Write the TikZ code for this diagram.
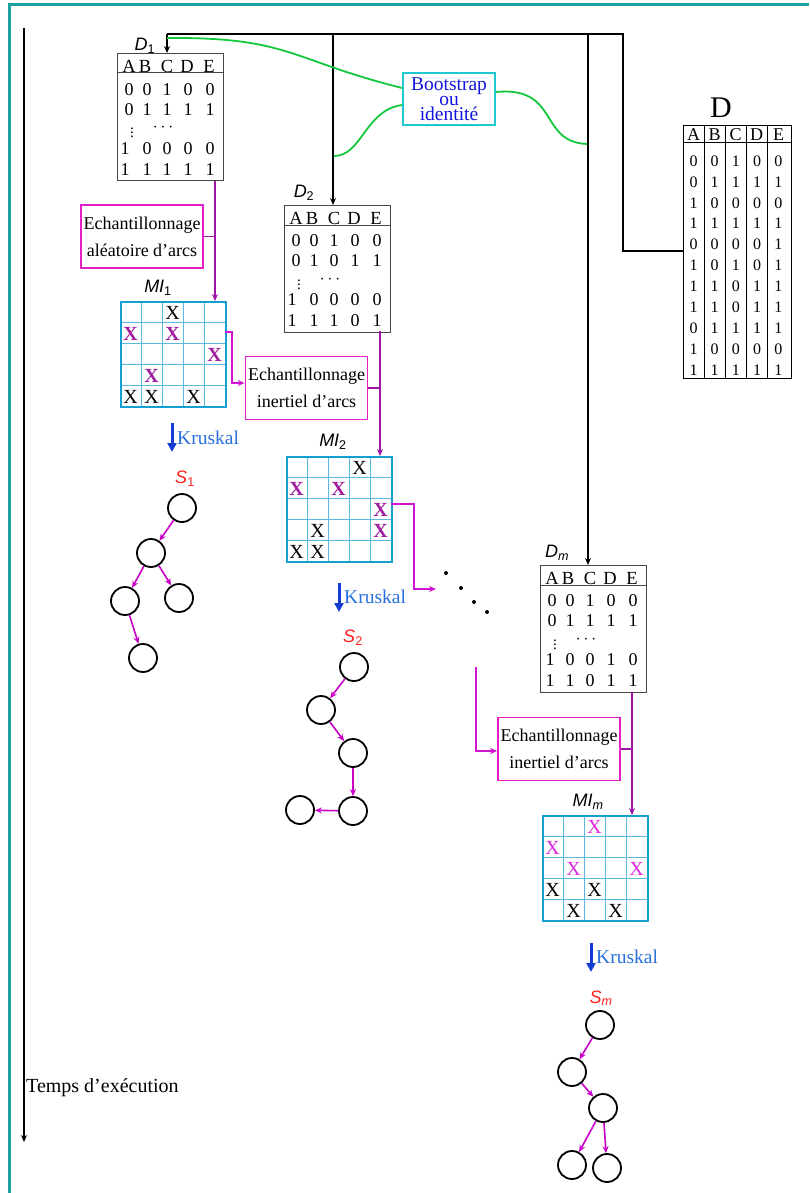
\documentclass[tikz,border=0pt]{standalone}
\usepackage{fontspec}
\setmainfont{Liberation Serif}
\setsansfont{Liberation Sans}
\usetikzlibrary{arrows.meta}
\definecolor{frameteal}{RGB}{30,160,160}
\definecolor{bsgreen}{RGB}{20,200,60}
\definecolor{bscyan}{RGB}{30,200,210}
\definecolor{bsblue}{RGB}{20,20,220}
\definecolor{boxmag}{RGB}{230,30,200}
\definecolor{linepurple}{RGB}{160,20,170}
\definecolor{linemag}{RGB}{210,20,210}
\definecolor{gridout}{RGB}{20,160,210}
\definecolor{gridin}{RGB}{90,185,225}
\definecolor{xpurple}{RGB}{160,30,160}
\definecolor{xmag}{RGB}{220,40,220}
\definecolor{krarrow}{RGB}{20,60,210}
\definecolor{krtext}{RGB}{40,110,220}
\definecolor{sred}{RGB}{255,30,30}
\definecolor{treemag}{RGB}{200,0,200}
\definecolor{tblgray}{RGB}{70,70,70}
% row of a small table: x0, y, first-column offset, five entries
\newcommand{\drow}[8]{%
  \node[tt] at (#1+#3,#2) {#4};
  \node[tt] at (#1+30,#2) {#5};
  \node[tt] at (#1+50,#2) {#6};
  \node[tt] at (#1+71,#2) {#7};
  \node[tt] at (#1+93,#2) {#8};}
\newcommand{\hrow}[2]{%
  \node[th] at (#1+12,#2) {A};
  \node[th] at (#1+28,#2) {B};
  \node[th] at (#1+50,#2) {C};
  \node[th] at (#1+70,#2) {D};
  \node[th] at (#1+92,#2) {E};}
\newcommand{\smalltbl}[3]{%
  \node[tbl, minimum width=106pt, minimum height=127pt] (#1) at (#2,#3) {};
  \draw[tblline] (#2,#3+20) -- (#2+106,#3+20);
  \node[inner sep=0pt, font=\fontsize{15}{15}\selectfont] at (#2+15,#3+77) {$\vdots$};
  \node[inner sep=0pt, font=\fontsize{16}{16}\selectfont] at (#2+46,#3+75) {$\cdots$};}
\newcommand{\migrid}[3]{%
  \foreach \i in {1,2,3,4} {
    \draw[gin] (#2+\i*21,#3) -- (#2+\i*21,#3+105);
    \draw[gin] (#2,#3+\i*21) -- (#2+105,#3+\i*21);
  }
  \node[gout] (#1) at (#2,#3) {};}
\newcommand{\cx}[5]{\node[xm,text=#5] at (#1+#3*21-10.5,#2+#4*21-9.5) {X};}
\newcommand{\cxb}[5]{\node[xm,text=#5,font=\fontsize{20}{20}\selectfont\bfseries] at (#1+#3*21-10.5,#2+#4*21-9.5) {X};}
\begin{document}
\begin{tikzpicture}[x=1pt,y=-1pt,
  tt/.style={inner sep=0pt, font=\fontsize{18}{18}\selectfont},
  th/.style={inner sep=0pt, font=\fontsize{18.5}{18}\selectfont},
  dt/.style={inner sep=0pt, font=\fontsize{16}{16}\selectfont},
  dh/.style={inner sep=0pt, font=\fontsize{18}{18}\selectfont},
  tbl/.style={draw=tblgray, line width=1.2pt, inner sep=0pt, anchor=north west},
  tblline/.style={draw=tblgray, line width=1pt},
  gin/.style={draw=gridin, line width=0.9pt},
  gout/.style={draw=gridout, line width=2.2pt, inner sep=0pt, minimum width=105pt, minimum height=105pt, anchor=north west},
  xm/.style={inner sep=0pt, font=\fontsize{20}{20}\selectfont},
  ebox/.style={draw=boxmag, line width=1.8pt, inner sep=0pt, minimum width=122pt, minimum height=63pt, align=center, font=\fontsize{18}{27}\selectfont},
  bbox/.style={draw=bscyan, line width=1.8pt, inner sep=0pt, minimum width=92pt, minimum height=52pt, align=center, text=bsblue, font=\fontsize{19.5}{15}\selectfont},
  lab/.style={inner sep=0pt, font=\fontsize{18}{18}\selectfont\sffamily\itshape},
  blk/.style={draw=black, line width=1.8pt},
  blkarr/.style={blk, -{Stealth[length=7pt,width=6pt]}},
  parr/.style={draw=linepurple, line width=1.8pt},
  parrow/.style={parr, -{Stealth[length=7pt,width=6pt]}},
  marr/.style={draw=linemag, line width=1.5pt, -{Stealth[length=7pt,width=6pt]}},
  grn/.style={draw=bsgreen, line width=1.8pt},
  tn/.style={circle, draw=black, line width=1.8pt, minimum size=28pt, inner sep=0pt},
  tarr/.style={draw=treemag, line width=1.6pt, -{Stealth[length=7pt,width=6pt]}},
  kra/.style={draw=krarrow, line width=3pt, -{Triangle[length=9pt,width=9pt]}},
  krt/.style={inner sep=0pt, anchor=west, text=krtext, font=\fontsize{19.5}{19}\selectfont},
  dot/.style={circle, fill=black, inner sep=0pt, minimum size=4pt}
]
\useasboundingbox (0,0) rectangle (809,1193);
% frame
\draw[draw=frameteal, line width=3pt] (9,1193) -- (9,5) -- (809,5);
% time axis
\coordinate (t0) at (24,28);
\coordinate (t1) at (24,1142);
\draw[draw=black, line width=1.5pt, -{Stealth[length=7pt,width=6pt]}] (t0) -- (t1);
\node[inner sep=0pt, anchor=west, font=\fontsize{20}{20}\selectfont] (temps) at (26,1088) {Temps d’exécution};

% small tables
\smalltbl{d1}{117}{53}
\hrow{117}{66}
\drow{117}{90}{12}{0}{0}{1}{0}{0}
\drow{117}{110}{12}{0}{1}{1}{1}{1}
\drow{117}{149}{8}{1}{0}{0}{0}{0}
\drow{117}{170}{8}{1}{1}{1}{1}{1}
\node[lab] (d1l) at (145,46) {D\textsubscript{\upshape 1}};

\smalltbl{d2}{284}{205}
\hrow{284}{218}
\drow{284}{241}{12}{0}{0}{1}{0}{0}
\drow{284}{261}{12}{0}{1}{0}{1}{1}
\drow{284}{300}{8}{1}{0}{0}{0}{0}
\drow{284}{321}{8}{1}{1}{1}{0}{1}
\node[lab] (d2l) at (304,193) {D\textsubscript{\upshape 2}};

\smalltbl{dm}{540}{565}
\hrow{540}{578}
\drow{540}{601}{12}{0}{0}{1}{0}{0}
\drow{540}{621}{12}{0}{1}{1}{1}{1}
\drow{540}{660}{10}{1}{0}{0}{1}{0}
\drow{540}{681}{10}{1}{1}{0}{1}{1}
\node[lab] (dml) at (557,553) {D\textsubscript{m}};

% big table D
\node[inner sep=0pt, font=\fontsize{30}{30}\selectfont] (dlab) at (721,108) {D};
\node[tbl, draw=black, minimum width=108pt, minimum height=253pt] (dT) at (683,125) {};
\foreach \xx in {704,725,746,767} { \draw[draw=black, line width=1pt] (\xx,125) -- (\xx,378); }
\draw[draw=black, line width=1pt] (683,143) -- (791,143);
\foreach \c/\xx in {A/693.5,B/714.5,C/735.5,D/756.5,E/778.5} { \node[dh] at (\xx,134.5) {\c}; }
\foreach \r [count=\k from 0] in {{0,0,1,0,0},{0,1,1,1,1},{1,0,0,0,0},{1,1,1,1,1},{0,0,0,0,1},{1,0,1,0,1},{1,1,0,1,1},{1,1,0,1,1},{0,1,1,1,1},{1,0,0,0,0},{1,1,1,1,1}} {
  \foreach \v [count=\j from 0] in \r {
    \node[dt] at (693.5+\j*21.2,161+\k*20.9) {\v};
  }
}

% black distribution lines
\coordinate (top1) at (167,34);
\coordinate (top2) at (333,34);
\coordinate (top3) at (588,34);
\coordinate (top4) at (623,34);
\coordinate (elbow) at (623,251);
\draw[blk] (top1) -- (top4) -- (elbow) -- (dT.west |- elbow);
\draw[blkarr] (top1) -- (d1.north -| top1);
\draw[blkarr] (top2) -- (d2.north -| top2);
\draw[blkarr] (top3) -- (dm.north -| top3);

% bootstrap box and green curves
\node[bbox] (bs) at (449,99) {Bootstrap\\ou\\identité};
\coordinate (g1) at (167,38);
\coordinate (g2) at (334,156);
\coordinate (g3) at (587,144);
\draw[grn] (g1) .. controls (290,37) and (290,60) .. (bs.west |- 0,88);
\draw[grn] (g2) .. controls (362,156) and (365,110) .. (bs.west |- 0,105);
\draw[grn] (bs.east |- 0,92) .. controls (560,86) and (538,142) .. (g3);

% MI grids
\migrid{mi1}{120}{301}
\node[lab] (mi1l) at (158,288) {MI\textsubscript{\upshape 1}};
\cx{120}{301}{3}{1}{black}
\cxb{120}{301}{1}{2}{xpurple}
\cxb{120}{301}{3}{2}{xpurple}
\cxb{120}{301}{5}{3}{xpurple}
\cxb{120}{301}{2}{4}{xpurple}
\cx{120}{301}{1}{5}{black}
\cx{120}{301}{2}{5}{black}
\cx{120}{301}{4}{5}{black}

\migrid{mi2}{286}{456}
\node[lab] (mi2l) at (333,442) {MI\textsubscript{\upshape 2}};
\cx{286}{456}{4}{1}{black}
\cxb{286}{456}{1}{2}{xpurple}
\cxb{286}{456}{3}{2}{xpurple}
\cxb{286}{456}{5}{3}{xpurple}
\cx{286}{456}{2}{4}{black}
\cxb{286}{456}{5}{4}{xpurple}
\cx{286}{456}{1}{5}{black}
\cx{286}{456}{2}{5}{black}

\migrid{mim}{542}{815}
\node[lab] (miml) at (588,802) {MI\textsubscript{m}};
\cx{542}{815}{3}{1}{xmag}
\cx{542}{815}{1}{2}{xmag}
\cx{542}{815}{2}{3}{xmag}
\cx{542}{815}{5}{3}{xmag}
\cx{542}{815}{1}{4}{black}
\cx{542}{815}{3}{4}{black}
\cx{542}{815}{2}{5}{black}
\cx{542}{815}{4}{5}{black}

% sampling boxes
\node[ebox] (e1) at (142,236.5) {Echantillonnage\\aléatoire d’arcs};
\node[ebox] (e2) at (306.5,388) {Echantillonnage\\inertiel d’arcs};
\node[ebox] (e3) at (559,749) {Echantillonnage\\inertiel d’arcs};

% purple lines table -> grid
\coordinate (p1) at (215,181);
\coordinate (p2) at (380,331);
\coordinate (p3) at (632,692);
\draw[parrow] (p1) -- (mi1.north -| p1);
\draw[parr] (e1.east) -- (e1.east -| p1);
\draw[parrow] (p2) -- (mi2.north -| p2);
\draw[parr] (e2.east) -- (e2.east -| p2);
\draw[parrow] (p3) -- (mim.north -| p3);
\draw[parr] (e3.east) -- (e3.east -| p3);

% magenta connectors
\coordinate (m1a) at (225,332);
\coordinate (m1b) at (232,383);
\draw[marr] (m1a) -| (m1b) -- (e2.west |- m1b);
\coordinate (m2a) at (391,504);
\coordinate (m2b) at (414,589);
\coordinate (m2c) at (436,589);
\draw[marr] (m2a) -| (m2b) -- (m2c);
\coordinate (m3a) at (476,667);
\coordinate (m3b) at (476,751);
\draw[marr] (m3a) -- (m3b) -- (e3.west |- m3b);

% dots
\node[dot] (dt1) at (446,573) {};
\node[dot] (dt2) at (461,588) {};
\node[dot] (dt3) at (474,602) {};
\node[dot] (dt4) at (487,612) {};

% Kruskal
\coordinate (k1a) at (172,423);
\coordinate (k1b) at (172,452);
\draw[kra] (k1a) -- (k1b);
\node[krt] (k1) at (177,438) {Kruskal};
\coordinate (k2a) at (339,583);
\coordinate (k2b) at (339,612);
\draw[kra] (k2a) -- (k2b);
\node[krt] (k2) at (344,597) {Kruskal};
\coordinate (k3a) at (591,943);
\coordinate (k3b) at (591,972);
\draw[kra] (k3a) -- (k3b);
\node[krt] (k3) at (596,957) {Kruskal};

% trees
\node[lab, text=sred] (s1l) at (185,479) {S\textsubscript{\upshape 1}};
\node[tn] (s1a) at (182,508) {};
\node[tn] (s1b) at (151,553) {};
\node[tn] (s1c) at (125,601) {};
\node[tn] (s1d) at (179,598) {};
\node[tn] (s1e) at (143,658) {};
\draw[tarr] (s1a) -- (s1b);
\draw[tarr] (s1b) -- (s1c);
\draw[tarr] (s1b) -- (s1d);
\draw[tarr] (s1c) -- (s1e);

\node[lab, text=sred] (s2l) at (353,638) {S\textsubscript{\upshape 2}};
\node[tn] (s2a) at (354,667) {};
\node[tn] (s2b) at (321,710) {};
\node[tn] (s2c) at (353,753) {};
\node[tn] (s2d) at (353,811) {};
\node[tn] (s2e) at (300,810) {};
\draw[tarr] (s2a) -- (s2b);
\draw[tarr] (s2b) -- (s2c);
\draw[tarr] (s2c) -- (s2d);
\draw[tarr] (s2d) -- (s2e);

\node[lab, text=sred] (sml) at (601,998) {S\textsubscript{m}};
\node[tn] (sma) at (600,1025) {};
\node[tn] (smb) at (572,1072) {};
\node[tn] (smc) at (603,1108) {};
\node[tn] (smd) at (572,1165) {};
\node[tn] (sme) at (607,1168) {};
\draw[tarr] (sma) -- (smb);
\draw[tarr] (smb) -- (smc);
\draw[tarr] (smc) -- (smd);
\draw[tarr] (smc) -- (sme);
\end{tikzpicture}
\end{document}
